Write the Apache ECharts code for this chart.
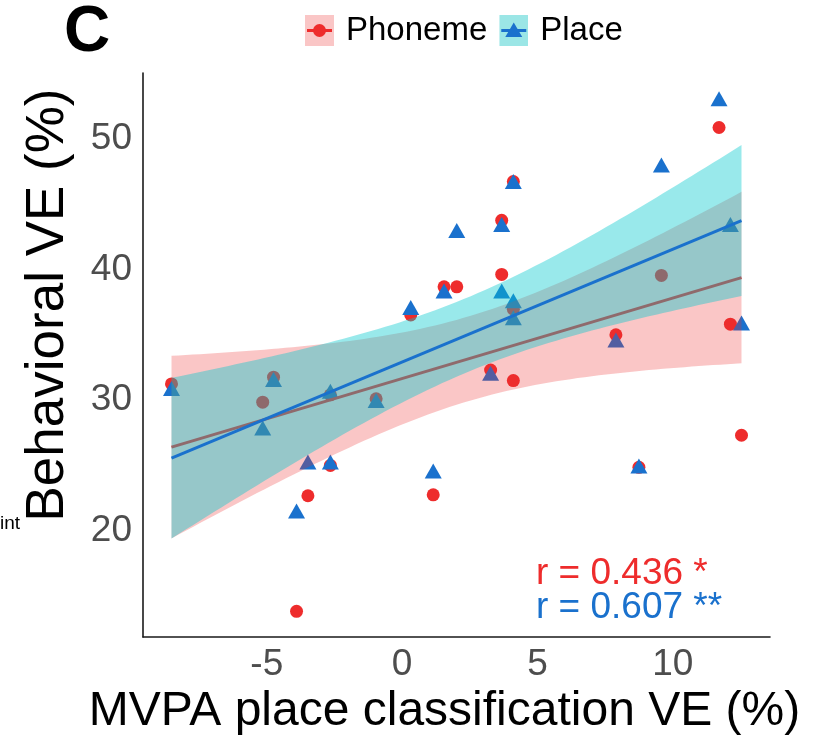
<!DOCTYPE html>
<html>
<head>
<meta charset="utf-8">
<script src="https://cdn.jsdelivr.net/npm/echarts@6/dist/echarts.min.js"></script>
<style>
  html, body { margin: 0; padding: 0; background: #fff; }
  #chart { width: 821px; height: 743px; }
</style>
</head>
<body>
<div id="chart"></div>
<script>
// ---- Data (one entry per subject) ----
const mvpaPlaceVE = [-8.52, -5.15, -4.75, -3.90, -3.48, -2.65, -2.65, -0.96, 0.32, 1.15, 1.55, 2.02, 3.27, 3.68, 3.68, 4.11, 4.11, 4.11, 7.90, 8.75, 9.58, 11.71, 12.13, 12.54];
const phonemeVE = [31.24, 29.84, 31.75, 13.83, 22.68, 30.40, 25.00, 30.10, 36.52, 22.75, 38.67, 38.67, 32.30, 43.76, 39.62, 46.73, 36.95, 31.49, 35.00, 24.85, 39.54, 50.86, 35.81, 27.31];
const placeVE   = [30.88, 27.86, 31.57, 21.52, 25.27, 30.68, 25.27, 29.97, 37.08, 24.58, 38.35, 42.97, 32.05, 43.43, 38.35, 46.73, 37.60, 36.31, 34.60, 24.96, 48.00, 53.07, 43.43, 35.89];
const seriesNames = ['Phoneme', 'Place'];
const xTicks = [-5, 0, 5, 10];
const yTicks = [20, 30, 40, 50];
const rLabels = ['r = 0.436 *', 'r = 0.607 **'];
const xTitle = 'MVPA place classification VE (%)';
const yTitle = 'Behavioral VE (%)';
const panelLetter = 'C';

// ---- Styles ----
const RED = '#EE2C2C';
const BLUE = '#1A71CD';
const RED_BAND = 'rgba(238,44,44,0.27)';
const CYAN_BAND = 'rgba(0,200,205,0.40)';
const FONT = '"Liberation Sans", Arial, Helvetica, sans-serif';

// ---- Linear fit with 95% confidence band (as geom_smooth(method='lm')) ----
const T_CRIT = 2.074; // t(0.975, df = 22)
function fitBand(xs, ys, nSteps) {
  const n = xs.length;
  const mx = xs.reduce((a, b) => a + b, 0) / n;
  const my = ys.reduce((a, b) => a + b, 0) / n;
  let sxx = 0, sxy = 0;
  for (let i = 0; i < n; i++) { sxx += (xs[i] - mx) ** 2; sxy += (xs[i] - mx) * (ys[i] - my); }
  const b = sxy / sxx, a = my - b * mx;
  let sse = 0;
  for (let i = 0; i < n; i++) sse += (ys[i] - (a + b * xs[i])) ** 2;
  const s = Math.sqrt(sse / (n - 2));
  const x0 = Math.min(...xs), x1 = Math.max(...xs);
  const band = [];
  for (let k = 0; k <= nSteps; k++) {
    const x = x0 + (x1 - x0) * k / nSteps;
    const yhat = a + b * x;
    const se = s * Math.sqrt(1 / n + (x - mx) ** 2 / sxx);
    band.push([x, yhat - T_CRIT * se, yhat + T_CRIT * se]);
  }
  return { line: [[x0, a + b * x0], [x1, a + b * x1]], band };
}
const fitPh = fitBand(mvpaPlaceVE, phonemeVE, 80);
const fitPl = fitBand(mvpaPlaceVE, placeVE, 80);

// ---- Axis ranges with 5% expansion (ggplot default) ----
const allY = phonemeVE.concat(placeVE);
const xMin0 = Math.min(...mvpaPlaceVE), xMax0 = Math.max(...mvpaPlaceVE);
const yMin0 = Math.min(...allY), yMax0 = Math.max(...allY);
const xPad = (xMax0 - xMin0) * 0.05, yPad = (yMax0 - yMin0) * 0.05;

function bandSeries(name, fit, color, z) {
  return {
    name, type: 'custom', z, silent: true,
    data: fit.band,
    encode: { x: 0, y: [1, 2] },
    renderItem: function (params, api) {
      if (params.dataIndexInside !== 0) return null;
      const upper = fit.band.map(d => api.coord([d[0], d[2]]));
      const lower = fit.band.slice().reverse().map(d => api.coord([d[0], d[1]]));
      return { type: 'polygon', shape: { points: upper.concat(lower) }, style: { fill: color } };
    }
  };
}

function svgIcon(bg, col, marker) {
  const m = marker === 'circle'
    ? `<circle cx="14.5" cy="15.5" r="6.5" fill="${col}"/>`
    : `<polygon points="14.5,7.5 23,22 6,22" fill="${col}"/>`;
  const svg = `<svg xmlns="http://www.w3.org/2000/svg" width="29" height="31"><rect width="29" height="31" fill="${bg}"/><line x1="2" y1="15.5" x2="27" y2="15.5" stroke="${col}" stroke-width="3"/>${m}</svg>`;
  return 'image://data:image/svg+xml;charset=utf-8,' + encodeURIComponent(svg);
}

const chart = echarts.init(document.getElementById('chart'), null, { renderer: 'canvas' });
chart.setOption({
  backgroundColor: '#ffffff',
  animation: false,
  title: {
    text: panelLetter, left: 59, top: -4,
    textStyle: { fontSize: 64, fontWeight: 'bold', color: '#000', fontFamily: FONT }
  },
  legend: {
    left: 300, top: 9, itemWidth: 29, itemHeight: 31, itemGap: 12,
    textStyle: { fontSize: 33, color: '#000', fontFamily: FONT, padding: [0, 0, 0, 7] },
    data: [
      { name: seriesNames[0], icon: svgIcon('#FAC6C6', RED, 'circle') },
      { name: seriesNames[1], icon: svgIcon('#9BE6E6', BLUE, 'triangle') }
    ],
    selectedMode: false
  },
  grid: { left: 143, right: 51, top: 73, bottom: 106, containLabel: false, outerBoundsMode: 'none' },
  xAxis: {
    type: 'value', min: xMin0 - xPad, max: xMax0 + xPad,
    name: xTitle, nameLocation: 'middle', nameGap: 48,
    nameTextStyle: { fontSize: 48, color: '#000', fontFamily: FONT, padding: [0, 24, 0, 0] },
    axisLine: { show: true, onZero: false, lineStyle: { color: '#1a1a1a', width: 1.6 } },
    axisTick: { show: false },
    splitLine: { show: false },
    axisLabel: { customValues: xTicks, fontSize: 37, color: '#4D4D4D', fontFamily: FONT, margin: 9 }
  },
  yAxis: {
    type: 'value', min: yMin0 - yPad, max: yMax0 + yPad,
    name: yTitle, nameLocation: 'middle', nameGap: 68, nameRotate: 90,
    nameTextStyle: { fontSize: 53, color: '#000', fontFamily: FONT, padding: [0, 0, 0, 100] },
    axisLine: { show: true, onZero: false, lineStyle: { color: '#1a1a1a', width: 1.6 } },
    axisTick: { show: false },
    splitLine: { show: false },
    axisLabel: { customValues: yTicks, fontSize: 37, color: '#4D4D4D', fontFamily: FONT, margin: 11 }
  },
  graphic: [
    { type: 'text', left: 536, top: 555, z: 100,
      style: { text: rLabels[0], fill: RED, font: '37px ' + FONT } },
    { type: 'text', left: 536, top: 589, z: 100,
      style: { text: rLabels[1], fill: BLUE, font: '37px ' + FONT } },
    { type: 'text', left: 0, top: 514, z: 100,
      style: { text: 'int', fill: '#000', font: '19px ' + FONT } }
  ],
  series: [
    { name: seriesNames[0], type: 'scatter', z: 2, symbol: 'circle', symbolSize: 13,
      itemStyle: { color: RED, opacity: 1 },
      data: mvpaPlaceVE.map((x, i) => [x, phonemeVE[i]]) },
    { name: seriesNames[1], type: 'scatter', z: 3, symbol: 'triangle', symbolSize: [17, 15],
      itemStyle: { color: BLUE, opacity: 1 },
      data: mvpaPlaceVE.map((x, i) => [x, placeVE[i]]) },
    bandSeries('Phoneme CI', fitPh, RED_BAND, 4),
    { name: 'Phoneme fit', type: 'line', z: 5, showSymbol: false, silent: true,
      lineStyle: { color: RED, width: 3 }, data: fitPh.line },
    bandSeries('Place CI', fitPl, CYAN_BAND, 6),
    { name: 'Place fit', type: 'line', z: 7, showSymbol: false, silent: true,
      lineStyle: { color: BLUE, width: 3 }, data: fitPl.line }
  ]
});
</script>
</body>
</html>
